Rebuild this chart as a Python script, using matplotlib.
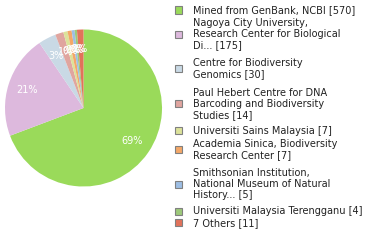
import matplotlib
matplotlib.use("Agg")
import matplotlib.pyplot as plt
from matplotlib.patches import Rectangle

labels = [
    "Mined from GenBank, NCBI [570]",
    "Nagoya City University,\nResearch Center for Biological\nDi... [175]",
    "Centre for Biodiversity\nGenomics [30]",
    "Paul Hebert Centre for DNA\nBarcoding and Biodiversity\nStudies [14]",
    "Universiti Sains Malaysia [7]",
    "Academia Sinica, Biodiversity\nResearch Center [7]",
    "Smithsonian Institution,\nNational Museum of Natural\nHistory... [5]",
    "Universiti Malaysia Terengganu [4]",
    "7 Others [11]",
]
values = [570, 175, 30, 14, 7, 7, 5, 4, 11]
colors = ["#9ada5a", "#ddb9dd", "#c9d9e5", "#e0a59f", "#dce29a",
          "#f4a868", "#9dbee4", "#9dc97a", "#e2725a"]

W, H = 380, 240
fig = plt.figure(figsize=(W / 100, H / 100), dpi=100)

# pie axes: center (83.5,108), radius 78.5 px
cx, cy, r = 83.5, 108, 78.5
ax = fig.add_axes([(cx - r) / W, 1 - (cy + r) / H, 2 * r / W, 2 * r / H])
total = sum(values)


def pct(p):
    return "%d%%" % int(p)


wedges, texts, autotexts = ax.pie(
    values, colors=colors, startangle=90, counterclock=False,
    autopct=pct, pctdistance=0.75,
    wedgeprops=dict(linewidth=0),
    textprops=dict(color="white", fontsize=7, family="DejaVu Sans"),
)
ax.set_xlim(-1, 1)
ax.set_ylim(-1, 1)
ax.set_aspect("auto")
ax.axis("off")

# legend drawn manually
L = 11.1
y = 10.0
prev_multi = None
for i, (lab, col) in enumerate(zip(labels, colors)):
    n = lab.count("\n") + 1
    multi = n > 1
    if prev_multi is not None:
        y = y + L + (5 if prev_multi else 0) + (2 if multi else 0)
    first = y
    last = y + (n - 1) * L
    for k, line in enumerate(lab.split("\n")):
        fig.text(193 / W, 1 - (first + k * L) / H, line, fontsize=7,
                 family="DejaVu Sans", color="#222222", va="center", ha="left")
    mc = (first + last) / 2
    fig.patches.append(Rectangle((175 / W, 1 - (mc + 3.5) / H), 7 / W, 7 / H,
                                 transform=fig.transFigure, facecolor=col,
                                 edgecolor="#808080", linewidth=0.8))
    y = last
    prev_multi = multi

fig.savefig("out.png", dpi=100)
